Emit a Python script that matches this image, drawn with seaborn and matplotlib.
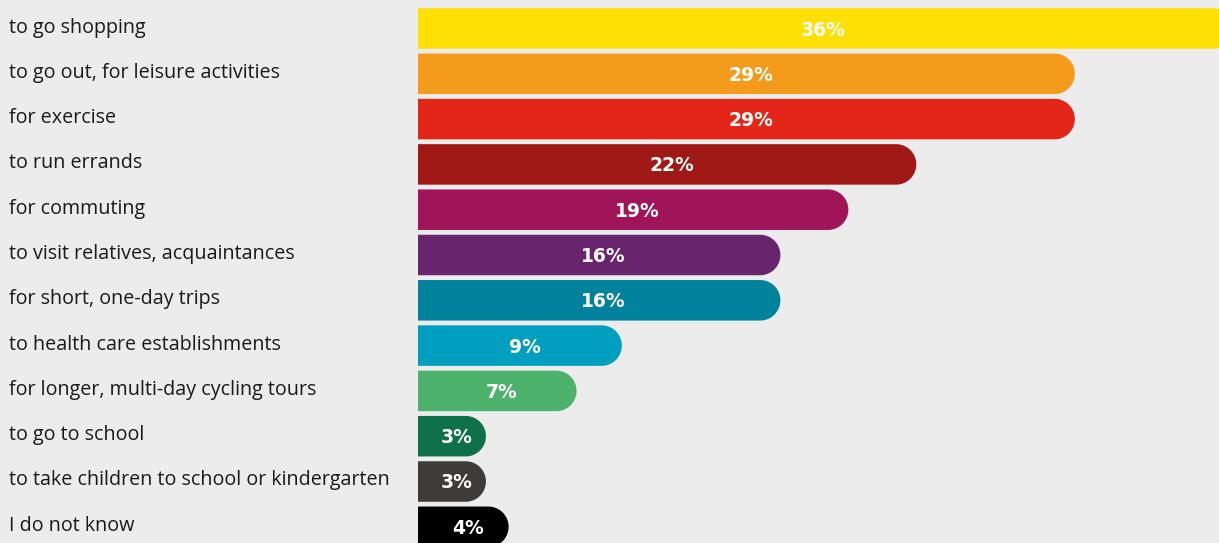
import numpy as np
import pandas as pd
import matplotlib
matplotlib.use("Agg")
import matplotlib.pyplot as plt
from matplotlib.path import Path
from matplotlib.patches import PathPatch
import seaborn as sns

categories = [
    "to go shopping",
    "to go out, for leisure activities",
    "for exercise",
    "to run errands",
    "for commuting",
    "to visit relatives, acquaintances",
    "for short, one-day trips",
    "to health care establishments",
    "for longer, multi-day cycling tours",
    "to go to school",
    "to take children to school or kindergarten",
    "I do not know",
]
values = [36, 29, 29, 22, 19, 16, 16, 9, 7, 3, 3, 4]
colors = ["#FFE005", "#F59B1C", "#E32618", "#A11916", "#A0145A", "#68256E",
          "#00819C", "#019FBF", "#4DB26C", "#0E714A", "#3D3C3A", "#000000"]

BG = "#ECECEC"
sns.set_theme(style="white")
plt.rcParams['font.family'] = ['Open Sans', 'DejaVu Sans']

W, H, DPI = 1219, 543, 100
fig = plt.figure(figsize=(W / DPI, H / DPI), dpi=DPI, facecolor=BG)
ax_left = 418 / W
ax = fig.add_axes([ax_left, 0, 1 - ax_left, 1])
ax.set_facecolor(BG)

df = pd.DataFrame({"cat": categories, "val": values})
sns.barplot(data=df, x="val", y="cat", hue="cat", palette=colors, legend=False,
            orient="h", width=0.894, ax=ax, saturation=1)

px_per_unit = 22.65
xmax = (W - 418) / px_per_unit
ax.set_xlim(0, xmax)
pitch = 45.3
top = -28.5 / pitch
ax.set_ylim(top + H / pitch, top)
for s in ax.spines.values():
    s.set_visible(False)
ax.set_xticks([])
ax.set_yticks([])
ax.set_xlabel("")
ax.set_ylabel("")

# replace rectangles with right-rounded pills
rx_per_px = 1 / px_per_unit
ry_per_px = 1 / pitch
for p in list(ax.patches):
    x0, y0 = p.get_x(), p.get_y()
    w, h = p.get_width(), p.get_height()
    fc = p.get_facecolor()
    ry = h / 2
    rpx = ry / ry_per_px
    rx = rpx * rx_per_px
    yc = y0 + h / 2
    ang = np.linspace(-np.pi / 2, np.pi / 2, 40)
    verts = [(x0, y0), (x0 + w - rx, y0)]
    verts += [(x0 + w - rx + rx * np.cos(a), yc + ry * np.sin(a)) for a in ang]
    verts += [(x0, y0 + h), (x0, y0)]
    codes = [Path.MOVETO] + [Path.LINETO] * (len(verts) - 2) + [Path.CLOSEPOLY]
    patch = PathPatch(Path(verts, codes), facecolor=fc, edgecolor="none")
    p.remove()
    ax.add_patch(patch)
    vis_end = min(w, xmax)
    ax.text(vis_end / 2 + 0.2, yc + 1.5 / pitch, f"{int(round(w))}%", ha="center", va="center",
            color="white", fontsize=13.5, fontweight="bold", family=['DejaVu Sans'])

# category labels
for i, c in enumerate(categories):
    ypix = 28.5 + i * pitch - 1
    fig.text(9 / W, 1 - ypix / H, c, ha="left", va="center", fontsize=14.2,
             color="#1a1a1a")

fig.savefig("out.png", dpi=DPI, facecolor=BG)
